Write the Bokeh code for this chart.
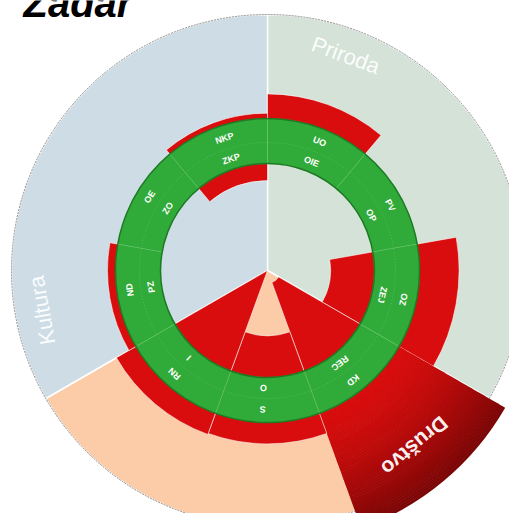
import numpy as np
from bokeh.plotting import figure
from bokeh.models import Range1d
from bokeh.embed import file_html
from bokeh.resources import INLINE
from bokeh.core.properties import value

# ---------------- data ----------------
title = "Zadar"
categories = ["Priroda", "Društvo", "Kultura"]
outer_labels = ["UO", "PV", "OZ", "KD", "S", "RN", "ND", "OE", "NKP"]
inner_labels = ["OIE", "OP", "ZEJ", "REC", "O", "I", "PZ", "ZO", "ZKP"]
outer_values = [23, 0, 37, 114, 20, 21, 7.5, 0, 5]
inner_values = [0, 0, 41, 88, 39, 100, 0, 0, 16]
highlight = "KD"

# ---------------- style / geometry ----------------
W, H = 509, 513
cx, cy = 267.0, -270.0
K = 1.07            # pixels per value unit
R_IN, R_MID, R_OUT, R_BG = 107.0, 128.0, 152.0, 256.0
bg_colors = {"Priroda": "#d4e2d8", "Društvo": "#fccba8", "Kultura": "#cddce5"}
RED = "#d90d0d"
GREEN = "#30aa38"
GREEN_EDGE = "#1d7a23"
FONT = "Liberation Sans"

n = len(outer_labels)
step = 360.0 / n
ncat = len(categories)
per_cat = n // ncat


def bang(theta):
    """clockwise-from-top degrees -> bokeh ccw radians"""
    return np.radians(90.0 - np.asarray(theta, dtype=float))


p = figure(width=W, height=H, x_range=Range1d(0, W), y_range=Range1d(-H, 0),
           output_backend="svg", toolbar_location=None, min_border=0)
p.axis.visible = False
p.grid.visible = False
p.outline_line_color = None
p.background_fill_color = "white"
p.border_fill_color = "white"

# category backgrounds
for j, c in enumerate(categories):
    t0, t1 = j * step * per_cat, (j + 1) * step * per_cat
    p.wedge(x=cx, y=cy, radius=R_BG, start_angle=float(bang(t1)), end_angle=float(bang(t0)),
            fill_color=bg_colors[c], line_color="white", line_width=1.5)
p.circle(x=cx, y=cy, radius=R_BG, fill_color=None, line_color="#8a8a8a",
         line_width=1, line_dash="2 1")

# outer red bars
for i, (lab, v) in enumerate(zip(outer_labels, outer_values)):
    if v <= 0:
        continue
    t0, t1 = i * step, (i + 1) * step
    r_end = R_OUT + v * K
    if lab == highlight:
        steps = 48
        c0 = np.array([0xd9, 0x0d, 0x0d])
        c1 = np.array([0x7c, 0x06, 0x06])
        for s in range(steps):
            ra = R_OUT - 2 + (r_end - R_OUT + 2) * s / steps
            rb = R_OUT - 2 + (r_end - R_OUT + 2) * (s + 1) / steps
            t = (s / (steps - 1)) ** 1.5
            col = "#%02x%02x%02x" % tuple(int(x) for x in (c0 + (c1 - c0) * t))
            p.annular_wedge(x=cx, y=cy, inner_radius=ra, outer_radius=rb + 0.5,
                            start_angle=float(bang(t1)), end_angle=float(bang(t0)),
                            fill_color=col, line_color=None)
    else:
        p.annular_wedge(x=cx, y=cy, inner_radius=R_OUT - 2, outer_radius=r_end,
                        start_angle=float(bang(t1)), end_angle=float(bang(t0)),
                        fill_color=RED, line_color="white", line_alpha=0.55, line_width=1)

# inner red bars (grow inward from ring)
for i, v in enumerate(inner_values):
    if v <= 0:
        continue
    t0, t1 = i * step, (i + 1) * step
    p.annular_wedge(x=cx, y=cy, inner_radius=max(R_IN - v * K, 0), outer_radius=R_IN + 2,
                    start_angle=float(bang(t1)), end_angle=float(bang(t0)),
                    fill_color=RED, line_color="white", line_alpha=0.55, line_width=1)

# green ring
starts = np.arange(n) * step
p.annular_wedge(x=cx, y=cy, inner_radius=R_IN, outer_radius=R_OUT,
                start_angle=bang(starts + step), end_angle=bang(starts),
                fill_color=GREEN, line_color="#6ccc70", line_alpha=0.45, line_width=0.8)
p.circle(x=cx, y=cy, radius=R_MID, fill_color=None, line_color="#7fd184",
         line_alpha=0.6, line_width=0.8, line_dash="1 2")
p.circle(x=cx, y=cy, radius=R_OUT, fill_color=None, line_color=GREEN_EDGE, line_width=1.5)
p.circle(x=cx, y=cy, radius=R_IN, fill_color=None, line_color=GREEN_EDGE, line_width=1.5)

# ring labels
lab_t = starts + step / 2 + 2
for labels, r in ((outer_labels, 139.0), (inner_labels, 117.5)):
    p.text(x=cx + r * np.sin(np.radians(lab_t)), y=cy + r * np.cos(np.radians(lab_t)),
           text=labels, angle=-np.radians(lab_t), text_align="center", text_baseline="middle",
           text_font=value(FONT), text_font_size="9px", text_font_style="bold",
           text_color="white")

# category labels
cat_t = np.array([j * step * per_cat + step / 2 for j in range(ncat)])
r_c = 229.0
for j, c in enumerate(categories):
    t = cat_t[j]
    p.text(x=[cx + r_c * np.sin(np.radians(t))], y=[cy + r_c * np.cos(np.radians(t))],
           text=[c], angle=float(-np.radians(t)), text_align="center", text_baseline="middle",
           text_font=value(FONT), text_font_size="22px" if c != "Društvo" else "21px",
           text_font_style="bold" if c == "Društvo" else "normal",
           text_color="white", text_alpha=0.95)

# title (partly cut off at the top, as in the reference)
p.text(x=[23], y=[-2], text=[title], text_align="left", text_baseline="middle",
       text_font=value(FONT), text_font_size="40px", text_font_style="bold italic",
       text_color="black")

open("out.html", "w").write(file_html(p, INLINE))
